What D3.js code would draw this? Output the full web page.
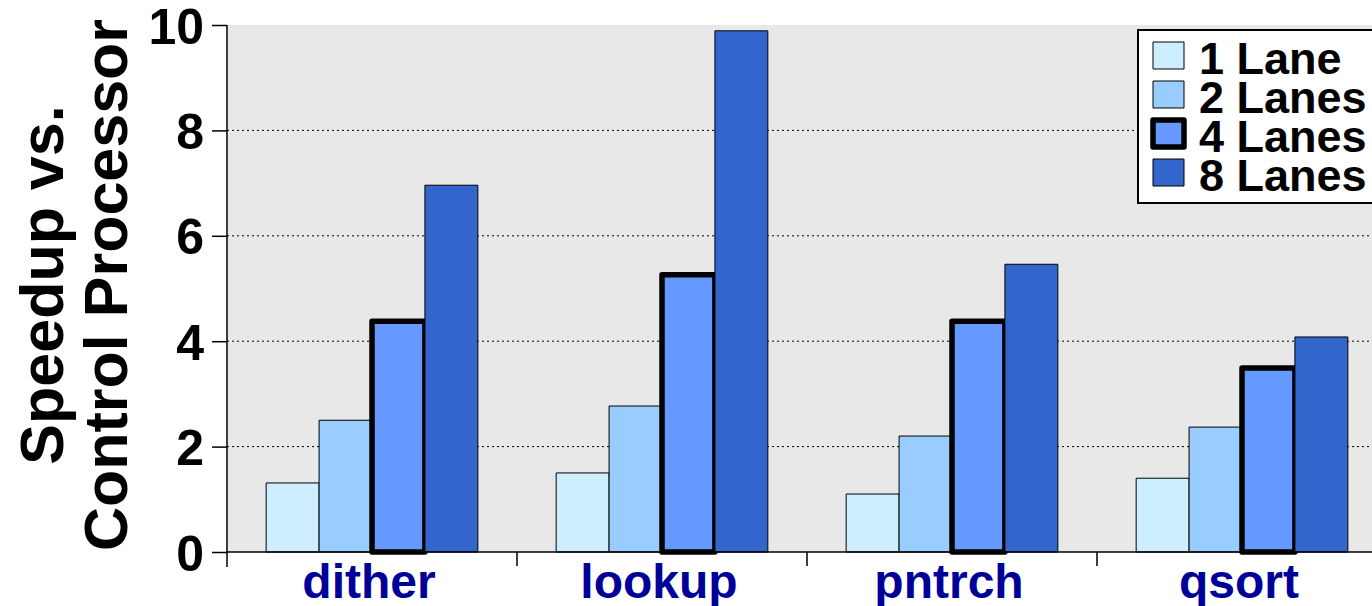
<!DOCTYPE html>
<html>
<head>
<meta charset="utf-8">
<script src="https://cdnjs.cloudflare.com/ajax/libs/d3/7.8.5/d3.min.js"></script>
<style>
  body { margin: 0; background: #fff; }
  svg { display: block; font-family: Arial, "Liberation Sans", sans-serif; font-weight: bold; }
</style>
</head>
<body>
<svg width="1372" height="606"></svg>
<script>
// data
var categories = ["dither", "lookup", "pntrch", "qsort"];
var seriesNames = ["1 Lane", "2 Lanes", "4 Lanes", "8 Lanes"];
var lane1 = [1.31, 1.50, 1.10, 1.40];
var lane2 = [2.50, 2.77, 2.20, 2.37];
var lane4 = [4.38, 5.26, 4.38, 3.49];
var lane8 = [6.96, 9.89, 5.46, 4.08];
var yTicks = [0, 2, 4, 6, 8, 10];

var seriesValues = [lane1, lane2, lane4, lane8];
var colors = ["#cceeff", "#99ccff", "#6699ff", "#3366cc"];

var svg = d3.select("svg"),
    margin = {top: 25, right: -15, bottom: 54, left: 227},
    width = +svg.attr("width") - margin.left - margin.right,
    height = +svg.attr("height") - margin.top - margin.bottom;

var x0 = d3.scaleBand().domain(categories).range([0, width]).padding(0),
    x1 = d3.scaleBand().domain(seriesNames).range([0, x0.bandwidth()]).paddingInner(0).paddingOuter(0.74),
    y = d3.scaleLinear().domain([0, 10]).range([height, 0]);

var g = svg.append("g")
    .attr("transform", "translate(" + margin.left + "," + margin.top + ")");

// grijze achtergrond van het plotvlak
g.append("rect")
    .attr("x", 0)
    .attr("y", 0)
    .attr("width", width)
    .attr("height", height)
    .attr("fill", "#e8e8e8");

// gestippelde gridlijnen
g.selectAll(".grid")
    .data(yTicks.filter(function (d) { return d > 0 && d < 10; }))
    .enter().append("line")
    .attr("x1", 0)
    .attr("x2", width)
    .attr("y1", function (d) { return y(d); })
    .attr("y2", function (d) { return y(d); })
    .attr("stroke", "#000")
    .attr("stroke-width", 1)
    .attr("stroke-dasharray", "2,3");

// bars
var rows = [];
categories.forEach(function (c, i) {
    seriesNames.forEach(function (s, j) {
        rows.push({cat: c, series: s, idx: j, value: seriesValues[j][i]});
    });
});

g.selectAll(".bar")
    .data(rows)
    .enter().append("rect")
    .attr("class", "bar")
    .attr("x", function (d) { return x0(d.cat) + x1(d.series); })
    .attr("y", function (d) { return y(d.value); })
    .attr("width", x1.bandwidth())
    .attr("height", function (d) { return height - y(d.value); })
    .attr("fill", function (d) { return colors[d.idx]; })
    .attr("stroke", "#000")
    .attr("stroke-width", function (d) { return d.idx === 2 ? 5.5 : 1; })
    .attr("stroke-linejoin", "round");

// y as
var yAxis = g.append("g")
    .call(d3.axisLeft(y).tickValues(yTicks).tickSize(15).tickPadding(8));
yAxis.select(".domain").remove();
yAxis.selectAll(".tick line").attr("stroke", "#000").attr("stroke-width", 1.5);
yAxis.selectAll("text")
    .attr("font-size", 50)
    .attr("font-family", "Arial, 'Liberation Sans', sans-serif")
    .attr("font-weight", "bold")
    .attr("fill", "#000")
    .attr("dy", "0.36em");

g.append("line")
    .attr("x1", 0).attr("x2", 0)
    .attr("y1", 0).attr("y2", height + 15)
    .attr("stroke", "#000").attr("stroke-width", 1.5);

// x as
g.append("line")
    .attr("x1", 0).attr("x2", width)
    .attr("y1", height).attr("y2", height)
    .attr("stroke", "#000").attr("stroke-width", 1.5);

g.selectAll(".sep")
    .data(categories.slice(1))
    .enter().append("line")
    .attr("x1", function (d) { return x0(d); })
    .attr("x2", function (d) { return x0(d); })
    .attr("y1", height)
    .attr("y2", height + 14)
    .attr("stroke", "#000")
    .attr("stroke-width", 1.5);

g.selectAll(".catlabel")
    .data(categories)
    .enter().append("text")
    .attr("x", function (d) { return x0(d) + x0.bandwidth() / 2 - 3; })
    .attr("y", height + 46)
    .attr("text-anchor", "middle")
    .attr("font-size", 48)
    .attr("fill", "#000099")
    .text(function (d) { return d; });

// as titel
var title = svg.append("text")
    .attr("transform", "translate(63,285) rotate(-90)")
    .attr("text-anchor", "middle")
    .attr("font-size", 61)
    .attr("fill", "#000");
title.append("tspan").attr("x", 0).attr("dy", 0).text("Speedup vs.");
title.append("tspan").attr("x", 0).attr("dy", 64).text("Control Processor");

// legenda
var legend = svg.append("g")
    .attr("transform", "translate(1138,30)");

legend.append("rect")
    .attr("x", 0).attr("y", 0)
    .attr("width", 260).attr("height", 173)
    .attr("fill", "#fff")
    .attr("stroke", "#000")
    .attr("stroke-width", 2);

var item = legend.selectAll(".item")
    .data(seriesNames)
    .enter().append("g")
    .attr("transform", function (d, i) { return "translate(15," + (12 + i * 39) + ")"; });

item.append("rect")
    .attr("width", 31)
    .attr("height", 27)
    .attr("fill", function (d, i) { return colors[i]; })
    .attr("stroke", "#000")
    .attr("stroke-width", function (d, i) { return i === 2 ? 5.5 : 1; })
    .attr("stroke-linejoin", "round");

item.append("text")
    .attr("x", 46)
    .attr("y", 32)
    .attr("font-size", 45)
    .attr("fill", "#000")
    .text(function (d) { return d; });
</script>
</body>
</html>
